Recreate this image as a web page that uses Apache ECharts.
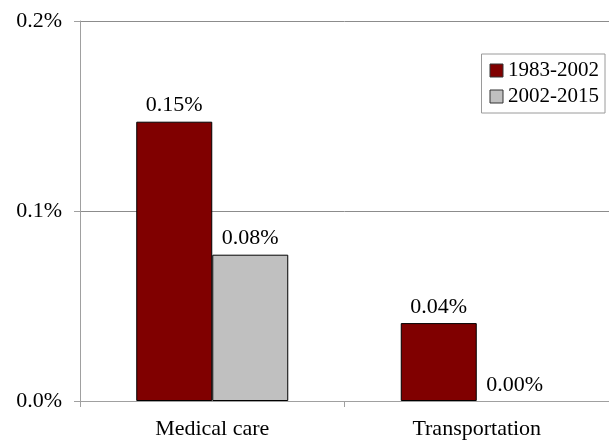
<!DOCTYPE html>
<html>
<head>
<meta charset="utf-8">
<script src="https://cdn.jsdelivr.net/npm/echarts@6/dist/echarts.min.js"></script>
<style>
  html, body { margin: 0; padding: 0; background: #fff; }
  #chart { width: 609px; height: 440px; }
</style>
</head>
<body>
<div id="chart"></div>
<script>
// values in percent points
const categories = ["Medical care", "Transportation"];
const period1 = [0.147, 0.041];
const period2 = [0.077, 0.0];
const seriesNames = ["1983-2002", "2002-2015"];
const yTicks = [0, 0.1, 0.2];

const fontFamily = "Liberation Serif";
const fontSize = 22;

const myChart = echarts.init(document.getElementById("chart"));

const barLabel = {
  show: true,
  position: "top",
  distance: 5,
  color: "#000",
  fontFamily: fontFamily,
  fontSize: fontSize,
  formatter: (p) => p.value.toFixed(2) + "%",
};

// zero-height bars get no outline, so nothing is drawn over the axis
const toBarData = (arr) =>
  arr.map((v) => (v === 0 ? { value: v, itemStyle: { borderWidth: 0 } } : v));

myChart.setOption({
  animation: false,
  textStyle: { fontFamily: fontFamily },
  grid: { left: 80, right: 0, top: 21, bottom: 39 },
  legend: {
    orient: "vertical",
    right: 4,
    top: 54,
    data: seriesNames,
    icon: "rect",
    itemWidth: 13,
    itemHeight: 13,
    itemGap: 5,
    padding: [6, 6, 6, 8],
    borderColor: "#9a9a9a",
    borderWidth: 1,
    itemStyle: { borderColor: "#333", borderWidth: 1 },
    textStyle: { fontFamily: fontFamily, fontSize: 21, color: "#000" },
  },
  xAxis: {
    type: "category",
    data: categories,
    axisLine: { lineStyle: { color: "#a0a0a0", width: 1 } },
    axisTick: { show: true, length: 6, lineStyle: { color: "#a0a0a0" } },
    axisLabel: {
      color: "#000",
      fontFamily: fontFamily,
      fontSize: fontSize,
      margin: 17,
    },
  },
  yAxis: {
    type: "value",
    min: yTicks[0],
    max: yTicks[yTicks.length - 1],
    interval: 0.1,
    axisLine: { show: true, lineStyle: { color: "#a0a0a0", width: 1 } },
    axisTick: { show: true, length: 6, lineStyle: { color: "#a0a0a0" } },
    splitLine: { show: true, lineStyle: { color: "#8c8c8c", width: 1 } },
    axisLabel: {
      color: "#000",
      fontFamily: fontFamily,
      fontSize: fontSize,
      margin: 18,
      formatter: (v) => v.toFixed(1) + "%",
    },
  },
  series: [
    {
      name: seriesNames[0],
      type: "bar",
      data: toBarData(period1),
      barWidth: 76,
      barGap: "0%",
      itemStyle: { color: "#800000", borderColor: "#000", borderWidth: 1 },
      label: barLabel,
    },
    {
      name: seriesNames[1],
      type: "bar",
      data: toBarData(period2),
      barWidth: 76,
      barGap: "0%",
      itemStyle: { color: "#c0c0c0", borderColor: "#000", borderWidth: 1 },
      label: barLabel,
    },
  ],
});
</script>
</body>
</html>
